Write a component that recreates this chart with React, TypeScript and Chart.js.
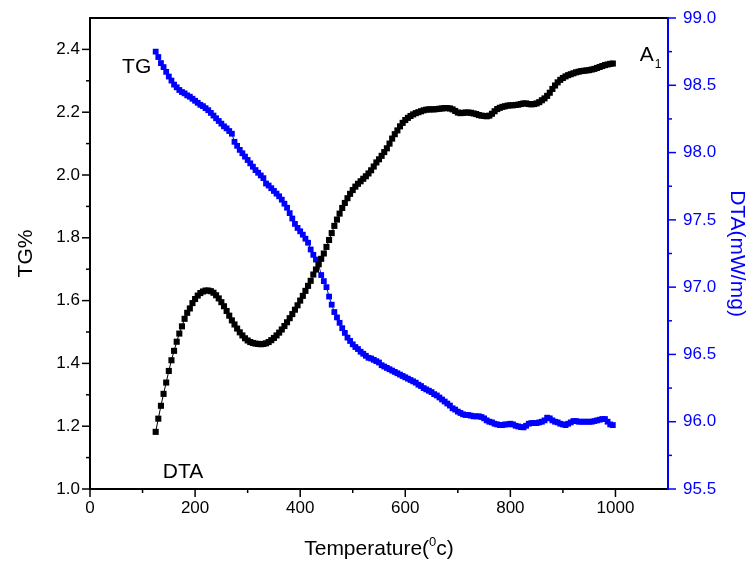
import { useEffect, useRef } from 'react';
import { Chart, registerables } from 'chart.js';

Chart.register(...registerables);

// Temperature (°C) of each recorded sample
const temperature = [
  125, 130, 135, 140, 145, 150, 155, 160, 165, 170,
  175, 180, 185, 190, 195, 200, 205, 210, 215, 220,
  225, 230, 235, 240, 245, 250, 255, 260, 265, 270,
  275, 280, 285, 290, 295, 300, 305, 310, 315, 320,
  325, 330, 335, 340, 345, 350, 355, 360, 365, 370,
  375, 380, 385, 390, 395, 400, 405, 410, 415, 420,
  425, 430, 435, 440, 445, 450, 455, 460, 465, 470,
  475, 480, 485, 490, 495, 500, 505, 510, 515, 520,
  525, 530, 535, 540, 545, 550, 555, 560, 565, 570,
  575, 580, 585, 590, 595, 600, 605, 610, 615, 620,
  625, 630, 635, 640, 645, 650, 655, 660, 665, 670,
  675, 680, 685, 690, 695, 700, 705, 710, 715, 720,
  725, 730, 735, 740, 745, 750, 755, 760, 765, 770,
  775, 780, 785, 790, 795, 800, 805, 810, 815, 820,
  825, 830, 835, 840, 845, 850, 855, 860, 865, 870,
  875, 880, 885, 890, 895, 900, 905, 910, 915, 920,
  925, 930, 935, 940, 945, 950, 955, 960, 965, 970,
  975, 980, 985, 990, 995,
];

// Black curve (labelled "DTA"), left axis TG%
const dtaValue = [
  1.182, 1.224, 1.265, 1.303, 1.339, 1.376, 1.41, 1.44, 1.469, 1.495,
  1.518, 1.542, 1.561, 1.575, 1.592, 1.605, 1.616, 1.624, 1.629, 1.632,
  1.632, 1.63, 1.625, 1.617, 1.607, 1.595, 1.582, 1.567, 1.552, 1.537,
  1.524, 1.511, 1.499, 1.489, 1.48, 1.473, 1.468, 1.465, 1.463, 1.462,
  1.461, 1.462, 1.464, 1.468, 1.474, 1.481, 1.489, 1.498, 1.508, 1.519,
  1.531, 1.544, 1.557, 1.571, 1.585, 1.6, 1.615, 1.631, 1.647, 1.663,
  1.683, 1.699, 1.716, 1.733, 1.75, 1.771, 1.793, 1.815, 1.838, 1.858,
  1.877, 1.895, 1.911, 1.926, 1.94, 1.952, 1.963, 1.972, 1.98, 1.988,
  1.996, 2.005, 2.015, 2.027, 2.04, 2.05, 2.061, 2.073, 2.085, 2.1,
  2.116, 2.13, 2.142, 2.155, 2.166, 2.175, 2.182, 2.188, 2.193, 2.197,
  2.2, 2.203, 2.206, 2.208, 2.209, 2.209, 2.209, 2.21, 2.211, 2.212,
  2.213, 2.213, 2.212, 2.209, 2.204, 2.199, 2.197, 2.198, 2.199, 2.199,
  2.198, 2.196, 2.194, 2.191, 2.189, 2.188, 2.187, 2.189, 2.195, 2.203,
  2.21, 2.214, 2.217, 2.219, 2.221, 2.222, 2.222, 2.223, 2.224, 2.226,
  2.228, 2.228, 2.226, 2.225, 2.226, 2.228, 2.232, 2.238, 2.244, 2.252,
  2.262, 2.274, 2.285, 2.295, 2.303, 2.309, 2.314, 2.318, 2.321, 2.324,
  2.327, 2.329, 2.331, 2.332, 2.333, 2.334, 2.336, 2.338, 2.341, 2.344,
  2.347, 2.35, 2.352, 2.354, 2.355,
];

// Blue curve (labelled "TG"), right axis DTA(mW/mg)
const tgValue = [
  98.75, 98.71, 98.665, 98.635, 98.6, 98.565, 98.535, 98.505, 98.485, 98.465,
  98.45, 98.44, 98.425, 98.415, 98.4, 98.385, 98.37, 98.355, 98.345, 98.33,
  98.315, 98.295, 98.275, 98.255, 98.235, 98.215, 98.195, 98.18, 98.16, 98.14,
  98.08, 98.05, 98.02, 97.995, 97.97, 97.945, 97.92, 97.895, 97.87, 97.85,
  97.83, 97.81, 97.77, 97.755, 97.735, 97.715, 97.695, 97.675, 97.65, 97.62,
  97.59, 97.55, 97.51, 97.47, 97.44, 97.415, 97.39, 97.36, 97.33, 97.28,
  97.24, 97.205, 97.17, 97.09, 97.045, 97.0, 96.93, 96.87, 96.815, 96.775,
  96.735, 96.695, 96.66, 96.625, 96.6, 96.575, 96.555, 96.54, 96.52, 96.505,
  96.49, 96.475, 96.47, 96.46, 96.45, 96.44, 96.42, 96.41, 96.4, 96.39,
  96.38, 96.37, 96.36, 96.35, 96.34, 96.33, 96.32, 96.31, 96.3, 96.29,
  96.275, 96.265, 96.25, 96.24, 96.23, 96.22, 96.205, 96.195, 96.18, 96.165,
  96.15, 96.135, 96.12, 96.1, 96.09, 96.075, 96.065, 96.055, 96.05, 96.05,
  96.045, 96.04, 96.04, 96.04, 96.035, 96.025, 96.01, 96.0, 95.995, 95.985,
  95.98, 95.975, 95.975, 95.98, 95.98, 95.985, 95.98, 95.97, 95.965, 95.96,
  95.958, 95.97, 95.985, 95.99, 95.99, 95.99, 95.995, 96.0, 96.01, 96.03,
  96.025, 96.01, 96.0, 95.995, 95.985, 95.98, 95.975, 95.985, 95.995, 96.005,
  96.005, 96.0, 96.0, 96.0, 96.0, 96.0, 96.0, 96.005, 96.01, 96.015,
  96.02, 96.02, 96.0, 95.98, 95.975,
];

const xTicks = [0, 200, 400, 600, 800, 1000];
const xMinorTicks = [100, 300, 500, 700, 900];
const leftTicks = [1.0, 1.2, 1.4, 1.6, 1.8, 2.0, 2.2, 2.4];
const leftMinorTicks = [1.1, 1.3, 1.5, 1.7, 1.9, 2.1, 2.3];
const rightTicks = [95.5, 96.0, 96.5, 97.0, 97.5, 98.0, 98.5, 99.0];
const rightMinorTicks = [95.75, 96.25, 96.75, 97.25, 97.75, 98.25, 98.75];

const FONT = '"Liberation Sans", Arial, sans-serif';
const BLUE = '#0000ff';

const decor = {
  id: 'decor',
  afterDraw(chart: any) {
    const { ctx, chartArea: a, scales } = chart;
    const x = scales.x;
    const yl = scales.yL;
    const yr = scales.yR;
    ctx.save();
    const line = (x1: number, y1: number, x2: number, y2: number) => {
      ctx.beginPath();
      ctx.moveTo(x1, y1);
      ctx.lineTo(x2, y2);
      ctx.stroke();
    };
    // axis frame
    ctx.lineWidth = 2;
    ctx.strokeStyle = '#000';
    line(a.left - 1, a.top, a.right, a.top);
    line(a.left - 1, a.bottom, a.right, a.bottom);
    line(a.left, a.top - 1, a.left, a.bottom + 1);
    // ticks
    ctx.lineWidth = 1.5;
    xTicks.forEach((v) => { const p = x.getPixelForValue(v); line(p, a.bottom, p, a.bottom + 8); });
    xMinorTicks.forEach((v) => { const p = x.getPixelForValue(v); line(p, a.bottom, p, a.bottom + 4); });
    leftTicks.forEach((v) => { const p = yl.getPixelForValue(v); line(a.left, p, a.left - 8, p); });
    leftMinorTicks.forEach((v) => { const p = yl.getPixelForValue(v); line(a.left, p, a.left - 4, p); });
    ctx.strokeStyle = BLUE;
    ctx.lineWidth = 2;
    line(a.right, a.top - 1, a.right, a.bottom + 1);
    ctx.lineWidth = 1.5;
    rightTicks.forEach((v) => { const p = yr.getPixelForValue(v); line(a.right, p, a.right + 8, p); });
    rightMinorTicks.forEach((v) => { const p = yr.getPixelForValue(v); line(a.right, p, a.right + 4, p); });

    // curve labels
    ctx.fillStyle = '#000';
    ctx.textBaseline = 'alphabetic';
    ctx.font = `21px ${FONT}`;
    ctx.textAlign = 'left';
    ctx.fillText('TG', x.getPixelForValue(61), yl.getPixelForValue(2.325));
    ctx.textAlign = 'center';
    ctx.fillText('DTA', x.getPixelForValue(177), yl.getPixelForValue(1.035));
    ctx.textAlign = 'left';
    const ax = x.getPixelForValue(1046);
    const ay = yl.getPixelForValue(2.362);
    ctx.fillText('A', ax, ay);
    const aw = ctx.measureText('A').width;
    ctx.font = `12px ${FONT}`;
    ctx.fillText('1', ax + aw + 1, ay + 7);

    // axis titles
    ctx.font = `21px ${FONT}`;
    ctx.textAlign = 'center';
    ctx.save();
    ctx.translate(32, (a.top + a.bottom) / 2);
    ctx.rotate(-Math.PI / 2);
    ctx.fillText('TG%', 0, 0);
    ctx.restore();
    ctx.save();
    ctx.fillStyle = BLUE;
    ctx.translate(731, (a.top + a.bottom) / 2);
    ctx.rotate(Math.PI / 2);
    ctx.fillText('DTA(mW/mg)', 0, 0);
    ctx.restore();

    // x title with superscript
    const t1 = 'Temperature(';
    const t2 = '0';
    const t3 = 'c)';
    ctx.font = `21px ${FONT}`;
    const w1 = ctx.measureText(t1).width;
    const w3 = ctx.measureText(t3).width;
    ctx.font = `13px ${FONT}`;
    const w2 = ctx.measureText(t2).width;
    const total = w1 + w2 + w3;
    let sx = (a.left + a.right) / 2 - total / 2;
    const by = a.bottom + 66;
    ctx.textAlign = 'left';
    ctx.font = `21px ${FONT}`;
    ctx.fillText(t1, sx, by);
    sx += w1;
    ctx.font = `13px ${FONT}`;
    ctx.fillText(t2, sx, by - 9);
    sx += w2;
    ctx.font = `21px ${FONT}`;
    ctx.fillText(t3, sx, by);
    ctx.restore();
  },
};

const noPad = (s: any) => {
  s.paddingTop = 0;
  s.paddingBottom = 0;
  s.paddingLeft = 0;
  s.paddingRight = 0;
};

export default function App() {
  const ref = useRef<HTMLCanvasElement | null>(null);
  useEffect(() => {
    if (!ref.current) return;
    const dtaPoints = temperature.map((t, i) => ({ x: t, y: dtaValue[i] }));
    const tgPoints = temperature.map((t, i) => ({ x: t, y: tgValue[i] }));
    const chart = new Chart(ref.current, {
      type: 'line',
      data: {
        datasets: [
          {
            label: 'DTA',
            data: dtaPoints,
            yAxisID: 'yL',
            borderColor: '#000',
            backgroundColor: '#000',
            borderWidth: 1,
            pointStyle: 'rect',
            pointRadius: 4.3,
            pointBorderWidth: 0,
            pointBackgroundColor: '#000',
            tension: 0,
          },
          {
            label: 'TG',
            data: tgPoints,
            yAxisID: 'yR',
            borderColor: BLUE,
            backgroundColor: BLUE,
            borderWidth: 1,
            pointStyle: 'rect',
            pointRadius: 4.1,
            pointBorderWidth: 0,
            pointBackgroundColor: BLUE,
            tension: 0,
          },
        ],
      },
      options: {
        responsive: false,
        animation: false,
        layout: { padding: { top: 18, left: 0, right: 0, bottom: 0 } },
        plugins: { legend: { display: false }, tooltip: { enabled: false } },
        scales: {
          x: {
            type: 'linear',
            min: 0,
            max: 1100,
            afterFit: (s: any) => { s.height = 78; noPad(s); },
            afterBuildTicks: (s: any) => { s.ticks = xTicks.map((v) => ({ value: v })); },
            grid: { display: false, drawTicks: false },
            border: { display: false },
            ticks: {
              color: '#000',
              font: { size: 17, family: FONT },
              padding: 9,
              maxRotation: 0,
              callback: (v: any) => String(v),
            },
          },
          yL: {
            type: 'linear',
            position: 'left',
            min: 1.0,
            max: 2.5,
            afterFit: (s: any) => { s.width = 90; noPad(s); },
            afterBuildTicks: (s: any) => { s.ticks = leftTicks.map((v) => ({ value: v })); },
            grid: { display: false, drawTicks: false },
            border: { display: false },
            ticks: {
              color: '#000',
              font: { size: 17, family: FONT },
              padding: 10,
              callback: (v: any) => Number(v).toFixed(1),
            },
          },
          yR: {
            type: 'linear',
            position: 'right',
            min: 95.5,
            max: 99.0,
            afterFit: (s: any) => { s.width = 82; noPad(s); },
            afterBuildTicks: (s: any) => { s.ticks = rightTicks.map((v) => ({ value: v })); },
            grid: { display: false, drawTicks: false },
            border: { display: false },
            ticks: {
              color: BLUE,
              font: { size: 17, family: FONT },
              padding: 15,
              callback: (v: any) => Number(v).toFixed(1),
            },
          },
        },
      },
      plugins: [decor],
    });
    return () => chart.destroy();
  }, []);
  return (
    <div style={{ position: 'fixed', left: 0, top: 0, width: 750, height: 567, background: '#fff' }}>
      <canvas ref={ref} width={750} height={567} />
    </div>
  );
}
